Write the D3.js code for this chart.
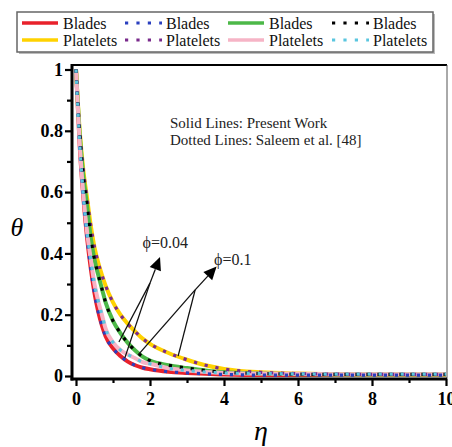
<!DOCTYPE html>
<html><head><meta charset="utf-8">
<script src="https://cdn.jsdelivr.net/npm/d3@7"></script>
<style>
html,body{margin:0;padding:0;background:#fff;}
svg{display:block;}
text{font-family:"Liberation Serif","Times New Roman",serif;}
</style></head>
<body>
<script>
// ---- data ----
const eta = [0,0.1,0.2,0.3,0.4,0.5,0.6,0.7,0.8,1.0,1.2,1.4,1.6,1.8,2.0,2.5,3.0,3.5,4.0,5.0,6.0,7.0,8.0,9.0,10.0];
// slowest decay (yellow solid / purple dotted)
const thetaA = [1,0.80,0.67,0.58,0.49,0.42,0.37,0.33,0.295,0.24,0.20,0.17,0.145,0.122,0.105,0.075,0.053,0.035,0.023,0.012,0.008,0.006,0.005,0.005,0.005];
// green solid / black dotted
const thetaB = [1,0.79,0.65,0.555,0.45,0.38,0.33,0.285,0.24,0.18,0.14,0.108,0.083,0.063,0.05,0.035,0.026,0.018,0.012,0.008,0.006,0.005,0.005,0.005,0.005];
// pink solid / cyan dotted
const thetaC = [1,0.76,0.59,0.47,0.38,0.30,0.245,0.20,0.155,0.11,0.085,0.07,0.058,0.045,0.04,0.025,0.018,0.013,0.010,0.008,0.007,0.006,0.006,0.006,0.006];
// red solid / blue dotted (fastest)
const thetaD = [1,0.75,0.58,0.45,0.35,0.27,0.21,0.165,0.13,0.09,0.065,0.047,0.035,0.027,0.022,0.014,0.010,0.007,0.005,0.003,0.003,0.003,0.003,0.003,0.003];

const xTicks = [0,2,4,6,8,10];
const yTicks = [0,0.2,0.4,0.6,0.8,1];
const xMinor = [1,3,5,7,9];
const yMinor = [0.1,0.3,0.5,0.7,0.9];

const series = [
  {name:"Blades",    values:thetaD, color:"#e8212b", dotted:false},
  {name:"Platelets", values:thetaA, color:"#ffd200", dotted:false},
  {name:"Blades",    values:thetaD, color:"#2a3fbf", dotted:true},
  {name:"Platelets", values:thetaA, color:"#7a2a8c", dotted:true},
  {name:"Blades",    values:thetaB, color:"#4cb848", dotted:false},
  {name:"Platelets", values:thetaC, color:"#f6b4c6", dotted:false},
  {name:"Blades",    values:thetaB, color:"#000000", dotted:true},
  {name:"Platelets", values:thetaC, color:"#5ac6df", dotted:true}
];

// annotation anchors in data units
const arrow004 = {tip:[2.27,0.388], joint:[2.0,0.303], ends:[[1.16,0.111],[1.32,0.059]], label:"ϕ=0.04", lx:1.8, ly:0.418};
const arrow01  = {tip:[3.80,0.357], joint:[3.22,0.281], ends:[[1.68,0.069],[2.76,0.065]], label:"ϕ=0.1", lx:3.73, ly:0.362};

// ---- drawing ----
const W=452,H=447;
const svg=d3.select("body").append("svg").attr("width",W).attr("height",H);
const x=d3.scaleLinear().domain([0,10]).range([76,446]);
const y=d3.scaleLinear().domain([0,1]).range([376,69.5]);
const pL=72,pR=447,pT=65,pB=379;

svg.append("defs").append("clipPath").attr("id","clip")
  .append("rect").attr("x",pL).attr("y",pT).attr("width",pR-pL).attr("height",pB-pT);

// frame top/right
svg.append("line").attr("x1",pL).attr("x2",pR).attr("y1",pT).attr("y2",pT).attr("stroke","#000").attr("stroke-width",2.2);
svg.append("line").attr("x1",pR).attr("x2",pR).attr("y1",pT).attr("y2",pB).attr("stroke","#555").attr("stroke-width",1);

const line=d3.line().x((d,i)=>x(eta[i])).y(d=>y(d)).curve(d3.curveMonotoneX);
const g=svg.append("g").attr("clip-path","url(#clip)");
series.filter(s=>!s.dotted).forEach(s=>{
  g.append("path").attr("d",line(s.values)).attr("fill","none").attr("stroke",s.color).attr("stroke-width",4);
});
series.filter(s=>s.dotted).forEach(s=>{
  g.append("path").attr("d",line(s.values)).attr("fill","none").attr("stroke",s.color).attr("stroke-width",3.2)
   .attr("stroke-dasharray","3.2,7.8");
});

// axes
svg.append("g").attr("transform",`translate(0,${pB})`)
  .call(d3.axisBottom(x).tickValues(xTicks).tickSize(7).tickSizeOuter(0).tickPadding(6).tickFormat(d3.format("d")));
svg.append("g").attr("transform",`translate(${pL},0)`)
  .call(d3.axisLeft(y).tickValues(yTicks).tickSize(7).tickSizeOuter(0).tickPadding(2).tickFormat(d=>d===0?"0":d===1?"1":d3.format(".1f")(d)));
svg.append("g").attr("transform",`translate(0,${pB})`)
  .call(d3.axisBottom(x).tickValues(xMinor).tickSize(4).tickSizeOuter(0).tickFormat(""));
svg.append("g").attr("transform",`translate(${pL},0)`)
  .call(d3.axisLeft(y).tickValues(yMinor).tickSize(5).tickSizeOuter(0).tickFormat(""));
svg.selectAll(".domain").remove();
svg.selectAll(".tick line").attr("stroke","#000").attr("stroke-width",2.2);
svg.selectAll(".tick text").attr("font-family","Liberation Serif").attr("font-weight","bold").attr("font-size",18).attr("fill","#000");
svg.append("line").attr("x1",pL).attr("x2",pL).attr("y1",pT-1).attr("y2",pB+1.5).attr("stroke","#000").attr("stroke-width",3);
svg.append("line").attr("x1",pL-1.5).attr("x2",pR).attr("y1",pB).attr("y2",pB).attr("stroke","#000").attr("stroke-width",3);

// axis titles
svg.append("text").attr("x",17).attr("y",236).attr("text-anchor","middle").attr("font-style","italic").attr("font-size",26).text("θ");
svg.append("text").attr("x",261).attr("y",440).attr("text-anchor","middle").attr("font-style","italic").attr("font-size",28).text("η");

// annotation text
svg.append("text").attr("x",170).attr("y",128).attr("font-size",15).attr("fill","#222").text("Solid Lines: Present Work");
svg.append("text").attr("x",170).attr("y",145).attr("font-size",15).attr("fill","#222").text("Dotted Lines: Saleem et al. [48]");

// arrows
function drawArrow(a){
  const T=[x(a.tip[0]),y(a.tip[1])], J=[x(a.joint[0]),y(a.joint[1])];
  a.ends.forEach(e=>{
    svg.append("line").attr("x1",x(e[0])).attr("y1",y(e[1])).attr("x2",J[0]).attr("y2",J[1]).attr("stroke","#111").attr("stroke-width",1.3);
  });
  const ang=Math.atan2(T[1]-J[1],T[0]-J[0]);
  const L=13, Wd=6;
  const bx=T[0]-L*Math.cos(ang), by=T[1]-L*Math.sin(ang);
  svg.append("line").attr("x1",J[0]).attr("y1",J[1]).attr("x2",bx).attr("y2",by).attr("stroke","#111").attr("stroke-width",1.3);
  const p1=[bx+Wd*Math.sin(ang), by-Wd*Math.cos(ang)], p2=[bx-Wd*Math.sin(ang), by+Wd*Math.cos(ang)];
  svg.append("path").attr("d",`M${T[0]},${T[1]}L${p1[0]},${p1[1]}L${p2[0]},${p2[1]}Z`).attr("fill","#000");
  svg.append("text").attr("x",x(a.lx)).attr("y",y(a.ly)).attr("font-size",16).attr("fill","#222").text(a.label);
}
drawArrow(arrow004);
drawArrow(arrow01);

// legend
const lg=svg.append("g");
lg.append("rect").attr("x",19).attr("y",14).attr("width",416).attr("height",40).attr("fill","#bbb");
lg.append("rect").attr("x",17).attr("y",12).attr("width",416).attr("height",40).attr("fill","#fff").attr("stroke","#666").attr("stroke-width",1.5);
const colX=[22,125,228,332], rowY=[23,40];
series.forEach((s,i)=>{
  const c=Math.floor(i/2), r=i%2;
  const x0=colX[c];
  if(s.dotted){
    lg.append("line").attr("x1",x0).attr("x2",x0+37).attr("y1",rowY[r]).attr("y2",rowY[r]).attr("stroke",s.color).attr("stroke-width",3.2).attr("stroke-dasharray","3.2,8.2");
  } else {
    lg.append("line").attr("x1",x0).attr("x2",x0+36).attr("y1",rowY[r]).attr("y2",rowY[r]).attr("stroke",s.color).attr("stroke-width",3.5);
  }
  lg.append("text").attr("x",x0+41).attr("y",rowY[r]+5.5).attr("font-size",16).attr("fill","#111").text(s.name);
});
</script>
</body></html>
